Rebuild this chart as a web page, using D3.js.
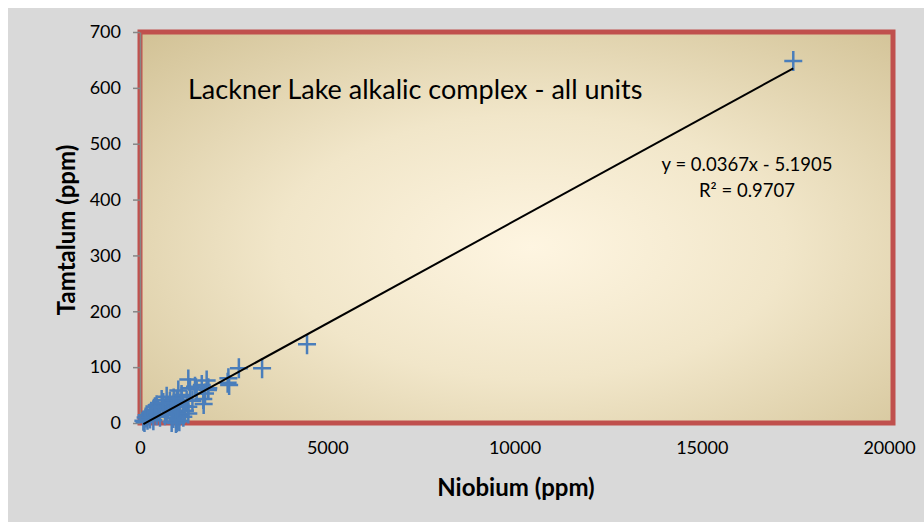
<!DOCTYPE html>
<html>
<head>
<meta charset="utf-8">
<script src="https://cdn.jsdelivr.net/npm/d3@7"></script>
<style>
  body { margin: 0; background: #ffffff; }
</style>
</head>
<body>
<div id="chart"></div>
<script>
// Nb vs Ta values
const niobium = [17444, 4460, 3260, 2640, 2360, 2340, 2380, 1290, 1780, 1650,
    1824, 1736, 1690, 1815, 1513, 1469, 1335, 1156, 1068, 890,
    980, 1050, 1200, 1246, 1023, 980, 800, 712, 579, 445,
    355, 267, 178, 90, 120, 356, 534, 712, 846, 935,
    490, 623, 757, 1068, 668, 267, 445, 1290, 1157, 846,
    1112, 1290, 1023, 960, 1000, 200, 300, 400, 620, 900,
    1110, 150, 1400, 1700];
const tantalum = [648, 141, 98, 98, 80, 72, 68, 78, 76, 68,
    62, 53, 43, 59, 60, 65, 62, 30, 14, 9,
    2, 3, 22, 40, 58, 41, 38, 47, 41, 32,
    23, 17, 14, 4, 2, 5, 11, 17, 26, 20,
    23, 29, 29, 29, 14, 8, 14, 29, 11, 2,
    47, 17, 30, 0, 6, 6, 20, 28, 36, 44,
    50, 10, 40, 34];
const xTicks = [0, 5000, 10000, 15000, 20000];
const yTicks = [0, 100, 200, 300, 400, 500, 600, 700];
const slope = 0.0367;
const intercept = -5.1905;

const data = niobium.map((d, i) => ({nb: d, ta: tantalum[i]}));

const width = 924;
const height = 522;
const margin = ({top: 32, right: 35, bottom: 99, left: 140});
const font = 'Lato, "Open Sans", sans-serif';

const svg = d3.create('svg')
    .attr('width', width)
    .attr('height', height);

// outer chart area
svg.append('rect')
    .attr('x', 8).attr('y', 8)
    .attr('width', width - 8).attr('height', height - 8)
    .attr('fill', '#d9d9d9');

const xScale = d3.scaleLinear()
    .domain([0, 20000])
    .range([margin.left, width - margin.right]);

const yScale = d3.scaleLinear()
    .domain([0, 700])
    .range([height - margin.bottom, margin.top]);

// plot area gradient
const defs = svg.append('defs');
const grad = defs.append('radialGradient')
    .attr('id', 'plotbg')
    .attr('cx', '52%').attr('cy', '55%').attr('r', '75%');
grad.append('stop').attr('offset', '0%').attr('stop-color', '#fef5e1');
grad.append('stop').attr('offset', '45%').attr('stop-color', '#f1e6c9');
grad.append('stop').attr('offset', '100%').attr('stop-color', '#d2c296');

svg.append('rect')
    .attr('x', xScale(0))
    .attr('y', yScale(700))
    .attr('width', xScale(20000) - xScale(0) + 4)
    .attr('height', yScale(0) - yScale(700))
    .attr('fill', 'url(#plotbg)')
    .attr('stroke', '#c0504d')
    .attr('stroke-width', 5);

// y axis
const yAxis = svg.append('g')
    .attr('transform', `translate(${margin.left}, 0)`)
    .call(d3.axisLeft(yScale).tickValues(yTicks).tickSize(7).tickPadding(12).tickSizeOuter(0));
yAxis.selectAll('line, path').attr('stroke', '#868686').attr('stroke-width', 1.5);
yAxis.selectAll('text')
    .attr('font-family', font)
    .attr('font-size', 18)
    .attr('fill', '#000');

// x axis
const xAxis = svg.append('g')
    .attr('transform', `translate(0, ${height - margin.bottom})`)
    .call(d3.axisBottom(xScale).tickValues(xTicks).tickFormat(d3.format('d')).tickSize(0).tickPadding(18));
xAxis.select('.domain').remove();
xAxis.selectAll('text')
    .attr('font-family', font)
    .attr('font-size', 18)
    .attr('fill', '#000');

// points as plus markers
svg.append('g')
    .selectAll('path')
    .data(data)
    .enter().append('path')
    .attr('d', d => {
        const x = xScale(d.nb), y = yScale(d.ta);
        return `M${x - 9},${y}H${x + 9}M${x},${y - 10}V${y + 10}`;
    })
    .attr('stroke', '#4a7ebb')
    .attr('stroke-width', 2.5)
    .attr('fill', 'none');

// linear trendline across the data range
const [xMin, xMax] = d3.extent(niobium);
svg.append('line')
    .attr('x1', xScale(xMin))
    .attr('y1', yScale(slope * xMin + intercept))
    .attr('x2', xScale(xMax))
    .attr('y2', yScale(slope * xMax + intercept))
    .attr('stroke', '#000')
    .attr('stroke-width', 2);

// text
svg.append('text')
    .attr('x', 188)
    .attr('y', 99)
    .attr('font-family', font)
    .attr('font-size', 27)
    .attr('fill', '#000')
    .text('Lackner Lake alkalic complex - all units');

svg.append('text')
    .attr('x', 747).attr('y', 171)
    .attr('text-anchor', 'middle')
    .attr('font-family', font)
    .attr('font-size', 18.5)
    .text('y = 0.0367x - 5.1905');

svg.append('text')
    .attr('x', 747).attr('y', 197)
    .attr('text-anchor', 'middle')
    .attr('font-family', font)
    .attr('font-size', 18.5)
    .text('R² = 0.9707');

svg.append('text')
    .attr('x', 516)
    .attr('y', 496)
    .attr('text-anchor', 'middle')
    .attr('font-family', font)
    .attr('font-weight', 700)
    .attr('font-size', 24)
    .text('Niobium (ppm)');

svg.append('text')
    .attr('transform', 'rotate(-90)')
    .attr('x', -230)
    .attr('y', 75)
    .attr('text-anchor', 'middle')
    .attr('font-family', font)
    .attr('font-weight', 700)
    .attr('font-size', 24)
    .text('Tamtalum (ppm)');

document.getElementById('chart').appendChild(svg.node());
</script>
</body>
</html>
